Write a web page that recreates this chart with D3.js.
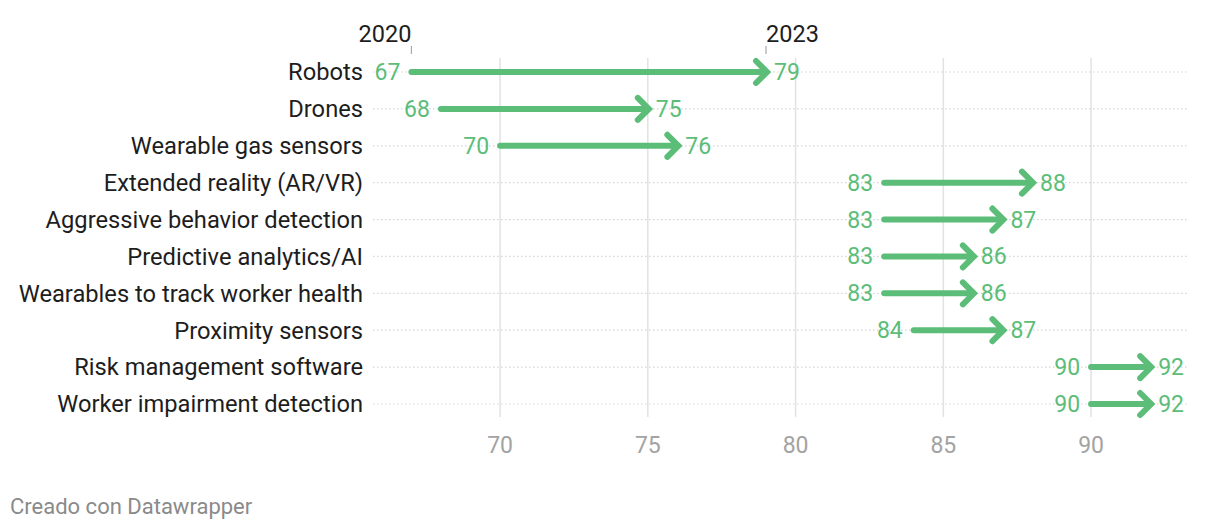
<!DOCTYPE html>
<html><head><meta charset="utf-8">
<script src="https://cdn.jsdelivr.net/npm/d3@7"></script>
<style>
body{margin:0;background:#fff;font-family:Roboto,"Noto Sans",sans-serif;}
</style></head>
<body><svg id="c" width="1220" height="530"></svg>
<script>
const categories = ["Robots","Drones","Wearable gas sensors","Extended reality (AR/VR)","Aggressive behavior detection","Predictive analytics/AI","Wearables to track worker health","Proximity sensors","Risk management software","Worker impairment detection"];
const values2020 = [67,68,70,83,83,83,83,84,90,90];
const values2023 = [79,75,76,88,87,86,86,87,92,92];
const xTicks = [70,75,80,85,90];
const yearLabels = ["2020","2023"];

const svg = d3.select("#c");
const green = "#5bbd78";
const x = d3.scaleLinear().domain([65.7,93.28]).range([373,1188]);
const y = d3.scalePoint().domain(categories).range([72,404]);

// vertical grid
svg.append("g").selectAll("line").data(xTicks).join("line")
  .attr("x1",d=>x(d)).attr("x2",d=>x(d)).attr("y1",58).attr("y2",417)
  .attr("stroke","#e2e2e2").attr("stroke-width",1.5);

// x axis labels
svg.append("g").selectAll("text").data(xTicks).join("text")
  .attr("x",d=>x(d)).attr("y",453).attr("text-anchor","middle")
  .attr("fill","#a3a3a3").attr("font-size",23).text(d=>d);

// row dotted lines
svg.append("g").selectAll("line").data(categories).join("line")
  .attr("x1",373).attr("x2",1188).attr("y1",d=>y(d)).attr("y2",d=>y(d))
  .attr("stroke","#d4d4d4").attr("stroke-width",1.2).attr("stroke-dasharray","1.5,2.5");

// row labels
svg.append("g").selectAll("text").data(categories).join("text")
  .attr("x",363).attr("y",d=>y(d)).attr("dy","0.35em").attr("text-anchor","end")
  .attr("fill","#1d1d1d").attr("font-size",23.7).text(d=>d);

const rows = categories.map((c,i)=>({c,a:values2020[i],b:values2023[i]}));

// arrows
const g = svg.append("g");
g.selectAll("line.shaft").data(rows).join("line").attr("class","shaft")
  .attr("x1",d=>x(d.a)).attr("x2",d=>x(d.b)-2).attr("y1",d=>y(d.c)).attr("y2",d=>y(d.c))
  .attr("stroke",green).attr("stroke-width",6).attr("stroke-linecap","round");
g.selectAll("path.head").data(rows).join("path").attr("class","head")
  .attr("d",d=>{const tx=x(d.b)+1, ty=y(d.c); return `M${tx-11},${ty-11}L${tx},${ty}L${tx-11},${ty+11}`;})
  .attr("fill","none").attr("stroke",green).attr("stroke-width",6)
  .attr("stroke-linecap","round").attr("stroke-linejoin","miter");

// value labels
g.selectAll("text.a").data(rows).join("text").attr("class","a")
  .attr("x",d=>x(d.a)-11).attr("y",d=>y(d.c)).attr("dy","0.35em").attr("text-anchor","end")
  .attr("fill",green).attr("font-size",23).text(d=>d.a);
g.selectAll("text.b").data(rows).join("text").attr("class","b")
  .attr("x",d=>x(d.b)+8).attr("y",d=>y(d.c)).attr("dy","0.35em").attr("text-anchor","start")
  .attr("fill",green).attr("font-size",23).text(d=>d.b);

// year labels on top
const yearHeads = [{t:yearLabels[0],v:values2020[0],anchor:"end"},{t:yearLabels[1],v:values2023[0],anchor:"start"}];
svg.append("g").selectAll("line").data(yearHeads).join("line")
  .attr("x1",d=>x(d.v)).attr("x2",d=>x(d.v)).attr("y1",46).attr("y2",54)
  .attr("stroke","#aaa").attr("stroke-width",1.2);
svg.append("g").selectAll("text").data(yearHeads).join("text")
  .attr("x",d=>x(d.v)).attr("y",42).attr("text-anchor",d=>d.anchor)
  .attr("fill","#1d1d1d").attr("font-size",23.5).text(d=>d.t);

// footer
svg.append("text").attr("x",10).attr("y",514).attr("fill","#8a8a8a").attr("font-size",22)
  .text("Creado con Datawrapper");
</script></body></html>
